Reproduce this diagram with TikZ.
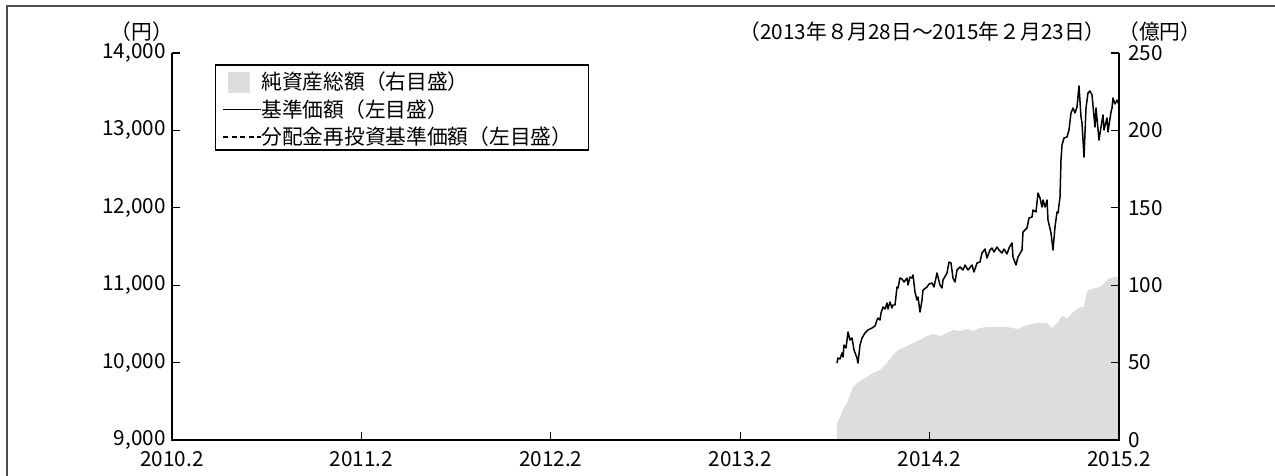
\documentclass[tikz,border=0pt]{standalone}
\usepackage{fontspec}
\setmainfont{Noto Sans CJK JP}
\definecolor{assetgray}{HTML}{DCDDDD}
\definecolor{framegray}{HTML}{4D4D4D}
\begin{document}
\begin{tikzpicture}[x=0.02cm,y=-0.02cm,font=\fontsize{11.8pt}{13.5pt}\selectfont,
  axis/.style={line width=0.7pt},
  tickmark/.style={line width=0.7pt},
  label/.style={inner sep=0pt}]
\useasboundingbox (0,0) rectangle (1275,476);
% 枠線
\draw[framegray,line width=0.8pt] (7,476) -- (7,6) -- (1275,6);
% 純資産総額
\fill[assetgray] (837,440) -- (837,423) -- (840,417) -- (843,410) -- (847,403) -- (850,395)
  -- (853,387) -- (857,383) -- (862,380) -- (867,377) -- (873,373) -- (880,370) -- (887,363)
  -- (893,355) -- (898,350) -- (905,347) -- (913,343) -- (920,340) -- (927,336) -- (933,334)
  -- (940,336) -- (947,333) -- (953,330) -- (960,331) -- (967,329) -- (973,331) -- (980,328)
  -- (987,327) -- (997,327) -- (1007,327) -- (1017,329) -- (1027,325) -- (1037,323)
  -- (1047,323) -- (1052,328) -- (1057,323) -- (1062,316) -- (1067,318) -- (1072,313)
  -- (1077,309) -- (1082,307) -- (1084,307) -- (1086,295) -- (1088,290) -- (1095,288)
  -- (1100,287) -- (1105,282) -- (1110,278) -- (1115,277) -- (1119,277) -- (1119,440) -- cycle;
% 基準価額
\draw[line width=0.85pt,line join=round] plot coordinates {
  (837,363) (838,358) (840,359) (842,353) (843,357) (844,345) (846,348) (848,332) (850,340)
  (852,338) (854,350) (857,358) (858,363) (860,345) (862,338) (865,333) (868,330) (872,328)
  (875,326) (877,320) (878,318) (880,320) (881,313) (883,307) (885,309) (887,303) (888,309)
  (890,302) (892,308) (893,305) (895,305) (897,287) (898,288) (900,278) (902,279) (904,282)
  (907,278) (908,285) (910,277) (912,278) (913,275) (915,292) (917,300) (918,297) (920,312)
  (922,300) (923,290) (927,287) (929,284) (932,283) (934,287) (937,273) (938,277) (940,285)
  (942,288) (943,280) (947,273) (949,262) (951,263) (953,278) (955,282) (957,270) (960,267)
  (963,270) (965,265) (968,270) (972,265) (974,272) (977,263) (980,262) (982,253) (985,249)
  (987,258) (990,250) (992,248) (994,252) (997,247) (999,250) (1002,253) (1004,249) (1007,254)
  (1009,248) (1012,243) (1013,257) (1016,265) (1018,257) (1022,250) (1023,232) (1027,228)
  (1029,218) (1032,217) (1033,210) (1036,212) (1038,193) (1040,198) (1042,207) (1043,200)
  (1045,207) (1047,200) (1048,220) (1051,233) (1053,250) (1055,227) (1057,212) (1058,213)
  (1060,197) (1061,160) (1062,145) (1064,138) (1067,137) (1069,130) (1071,113) (1073,108)
  (1075,113) (1077,107) (1079,86) (1081,117) (1082,123) (1084,157) (1086,108) (1088,93)
  (1090,91) (1092,95) (1095,127) (1096,108) (1099,140) (1101,127) (1103,115) (1104,130)
  (1107,118) (1108,132) (1111,112) (1112,108) (1113,98) (1115,104) (1117,100) (1119,105)};
% 軸
\coordinate (ltop) at (172,53);
\coordinate (origin) at (172,440);
\coordinate (rbot) at (1119,440);
\coordinate (rtop) at (1119,53);
\draw[axis] (ltop) -- (origin) -- (rbot) -- (rtop);
% 左目盛
\foreach \k/\lab in {0/{9,000},1/{10,000},2/{11,000},3/{12,000},4/{13,000},5/{14,000}} {
  \draw[tickmark] (172,{440-77.4*\k}) -- ++(8,0);
  \node[label,anchor=east] (yl\k) at (166,{440-77.4*\k}) {\lab};
}
% 右目盛
\foreach \k/\lab in {0/0,1/50,2/100,3/150,4/200,5/250} {
  \draw[tickmark] (1119,{440-77.4*\k}) -- ++(-8,0);
  \node[label,anchor=west] (yr\k) at (1128,{440-77.4*\k}) {\lab};
}
% 横軸
\foreach \i in {0,...,5} {
  \ifnum\i>0 \ifnum\i<5 \draw[tickmark] ({172+189.4*\i},440) -- ++(0,-8); \fi\fi
  \node[label] (xl\i) at ({172+189.4*\i},459) {201\i.2};
}
% 単位と期間
\node[label] (unitl) at (142,32) {（円）};
\node[label,anchor=west] (unitr) at (1118,32) {（億円）};
\node[label,anchor=east] (period) at (1106,32) {（2013年８月28日～2015年２月23日）};
% 凡例
\node[draw,line width=0.6pt,fill=white,minimum width=7.48cm,minimum height=1.7cm] (legend) at (402,107.5) {};
\fill[assetgray] (228,72) rectangle (250,93);
\node[label,anchor=west] (legasset) at (261,82) {純資産総額（右目盛）};
\node[label,anchor=west] (legnav) at (261,109.5) {基準価額（左目盛）};
\node[label,anchor=west] (legreinv) at (261,137) {分配金再投資基準価額（左目盛）};
\coordinate (navstart) at (223,109.5);
\coordinate (reinvstart) at (223,137);
\draw[line width=0.6pt] (navstart) -- (legnav.west);
\draw[line width=0.6pt,dash pattern=on 2.8pt off 2.1pt] (reinvstart) -- (legreinv.west);
\end{tikzpicture}
\end{document}
